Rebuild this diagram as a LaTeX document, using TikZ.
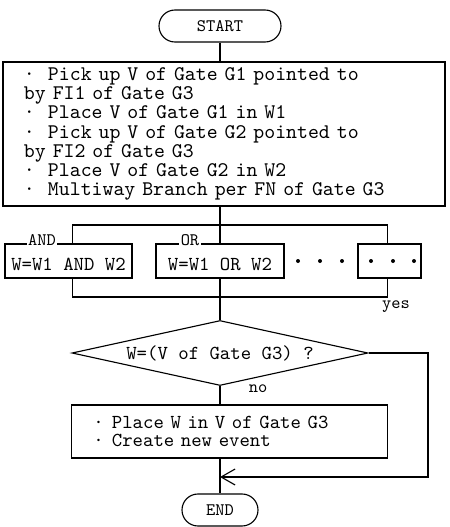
\documentclass[tikz,border=0pt]{standalone}
\usepackage{fontspec}
\usepackage{tikz}
\usetikzlibrary{arrows.meta,positioning,shapes,shapes.misc,shapes.geometric}
\newfontfamily\flowtt{lmmono10-regular.otf}
\newcommand\flowfont{\flowtt\fontsize{14.1pt}{13.5pt}\selectfont}
\newcommand\tagfont{\flowtt\fontsize{12.5pt}{13pt}\selectfont}
\newcommand\flowdot[1]{\makebox[#1][l]{·}}
\definecolor{ink}{HTML}{000000}
\tikzset{
  flowline/.style={draw=ink,line width=0.8pt},
  termbox/.style={flowline,rounded rectangle,minimum height=8mm,
                  inner sep=0pt,font=\tagfont},
  procbox/.style={flowline,rectangle,align=left,inner ysep=0pt},
  casebox/.style={flowline,rectangle,minimum height=8.5mm,inner sep=0pt,
                  text height=5mm,text depth=0.3mm,font=\flowfont},
  casetag/.style={fill=white,inner sep=1pt,font=\tagfont},
  testbox/.style={flowline,diamond,aspect=4.5,inner sep=0pt,
                  minimum width=74mm,minimum height=16.25mm,font=\flowfont},
  answer/.style={font=\tagfont},
  yesarr/.style={-{Straight Barb[length=3.5mm,width=4mm]},line width=0.8pt}
}

\begin{document}
\begin{tikzpicture}[x=0.25mm,y=-0.25mm,line width=0.8pt]
  \useasboundingbox (0,0) rectangle (450,527);
  \node[termbox,minimum width=30.5mm] (start) at (220,26) {START};
  \node[procbox,minimum width=110.5mm,minimum height=36mm,
        text width=100mm,inner xsep=5.25mm,
        font=\flowtt\fontsize{14.8pt}{13.7pt}\selectfont] (steps) at (224,134) {%
    \flowdot{6mm}Pick up V of Gate G1 pointed to\\
    by FI1 of Gate G3\\
    \flowdot{6mm}Place V of Gate G1 in W1\\
    \flowdot{6mm}Pick up V of Gate G2 pointed to\\
    by FI2 of Gate G3\\
    \flowdot{6mm}Place V of Gate G2 in W2\\
    \flowdot{6mm}Multiway Branch per FN of Gate G3};
  \node[casebox,minimum width=31.75mm] (andbox) at (68.5,261) {W=W1 AND W2};
  \node[casebox,minimum width=32mm] (orbox) at (220,261) {W=W1 OR W2};
  \node[casebox,minimum width=15.75mm] (dotbox) at (389.5,261) {};
  \node[casetag] (andtag) at (42,240) {AND};
  \node[casetag] (ortag) at (190,240) {OR};
  \foreach \px in {298,320,342,371,393,414}
    \fill[ink] (\px,261) circle (2);
  \node[testbox] (test) at (220,353) {W=(V of Gate G3) ?};
  \node[answer] (yes) at (396,307) {yes};
  \node[answer] (no) at (258,389) {no};
  \node[procbox,minimum width=78.75mm,minimum height=13.25mm,
        text width=68mm,inner xsep=5.4mm,
        font=\flowtt\fontsize{14.1pt}{13pt}\selectfont] (place) at (229.5,431.5) {%
    \flowdot{4.6mm}Place W in V of Gate G3\\
    \flowdot{4.6mm}Create new event};
  \node[termbox,minimum width=19mm] (end) at (220,510) {END};
  \coordinate (split) at (220,225);
  \coordinate (merge) at (220,297);
  \coordinate (loop) at (428,477);
  \draw (start.south) -- (start.south |- steps.north);
  \draw (steps.south -| orbox.north) -- (orbox.north);
  \draw ([xshift=1.1mm]andbox.north) |- (split) -| ([xshift=-0.6mm]dotbox.north);
  \draw ([xshift=1.1mm]andbox.south) |- (merge) -| ([xshift=-0.6mm]dotbox.south);
  \draw (orbox.south) -- (test.north);
  \draw (test.south) -- (test.south |- place.north);
  \draw[yesarr] (test.east) -| (loop) -- (loop -| end.north);
  \draw (place.south -| end.north) -- (end.north);
\end{tikzpicture}
\end{document}
